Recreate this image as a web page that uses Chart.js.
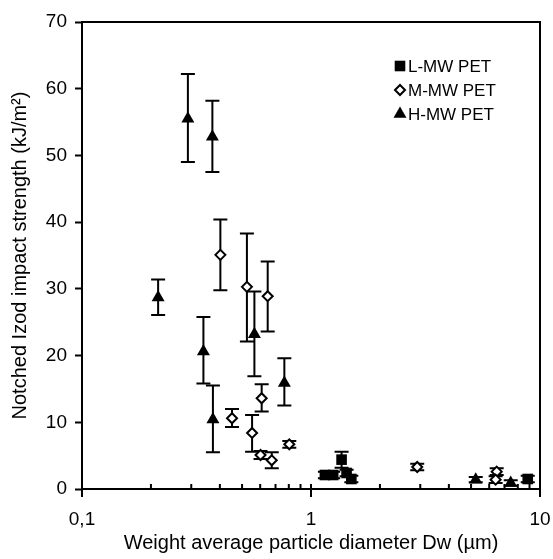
<!DOCTYPE html>
<html lang="en">
<head>
<meta charset="UTF-8">
<title>Notched Izod impact strength vs particle diameter</title>
<style>
  html, body { margin: 0; padding: 0; background: #fff; }
</style>
</head>
<body>
<canvas id="chart" width="553" height="559"></canvas>
<script src="https://cdn.jsdelivr.net/npm/chart.js"></script>
<script>
// Data (x in µm, y in kJ/m²)
const seriesNames = ['L-MW PET', 'M-MW PET', 'H-MW PET'];

const lmwX    = [1.15, 1.25, 1.36, 1.43, 1.50, 8.84];
const lmwY    = [2.1, 2.1, 4.4, 2.4, 1.5, 1.5];
const lmwLow  = [1.6, 1.6, 3.2, 1.9, 1.0, 1.0];
const lmwHigh = [2.6, 2.6, 5.6, 2.9, 2.0, 2.0];

const mmwX    = [0.402, 0.525, 0.647, 0.452, 0.609, 0.553, 0.602, 0.674, 0.804, 2.91, 6.47, 6.40];
const mmwY    = [35.1, 30.3, 28.9, 10.6, 13.6, 8.4, 5.1, 4.3, 6.7, 3.3, 2.6, 1.4];
const mmwLow  = [29.8, 22.1, 23.6, 9.3, 11.6, 5.6, 4.5, 3.1, 6.2, 2.8, 2.1, 0.9];
const mmwHigh = [40.4, 38.3, 34.1, 12.0, 15.7, 11.1, 5.7, 5.5, 7.2, 3.8, 3.1, 1.9];

const hmwX    = [0.215, 0.290, 0.371, 0.339, 0.373, 0.566, 0.765, 5.24, 7.45];
const hmwY    = [28.7, 55.5, 52.8, 20.6, 10.4, 23.2, 15.9, 1.4, 0.9];
const hmwLow  = [26.1, 49.0, 47.5, 15.8, 5.5, 16.9, 12.5, 1.0, 0.5];
const hmwHigh = [31.4, 62.2, 58.2, 25.8, 15.5, 29.6, 19.6, 1.8, 1.3];

const xTickValues = [0.1, 0.2, 0.3, 0.4, 0.5, 0.6, 0.7, 0.8, 0.9,
                     1, 2, 3, 4, 5, 6, 7, 8, 9, 10];
const xTickLabels = { 0.1: '0,1', 1: '1', 10: '10' };

const FONT = '"Liberation Sans", Arial, sans-serif';

function points(xs, ys, lo, hi) {
  return xs.map((x, i) => ({ x: x, y: ys[i], lo: lo[i], hi: hi[i] }));
}

// vertical error bars, drawn under the markers
const errorBars = {
  id: 'errorBars',
  beforeDatasetsDraw(chart) {
    const { ctx, scales: { x, y } } = chart;
    ctx.save();
    ctx.strokeStyle = '#000';
    ctx.lineWidth = 2;
    chart.data.datasets.forEach(ds => {
      ds.data.forEach(p => {
        const px = x.getPixelForValue(p.x);
        const top = y.getPixelForValue(p.hi);
        const bot = y.getPixelForValue(p.lo);
        ctx.beginPath();
        ctx.moveTo(px, top); ctx.lineTo(px, bot);
        ctx.moveTo(px - 7, top); ctx.lineTo(px + 7, top);
        ctx.moveTo(px - 7, bot); ctx.lineTo(px + 7, bot);
        ctx.stroke();
      });
    });
    ctx.restore();
  }
};

// frame, log tick marks and the legend inside the plot
const frameAndLegend = {
  id: 'frameAndLegend',
  afterDraw(chart) {
    const { ctx, chartArea: a, scales: { x } } = chart;
    ctx.save();
    ctx.strokeStyle = '#000';
    ctx.lineWidth = 2;
    ctx.beginPath();
    ctx.moveTo(a.left, a.top); ctx.lineTo(a.right, a.top); ctx.lineTo(a.right, a.bottom);
    ctx.stroke();

    // x tick marks: minor ones point inward, decades cross the axis
    ctx.beginPath();
    x.ticks.forEach(t => {
      const px = x.getPixelForValue(t.value);
      const decade = Math.abs(Math.log10(t.value) - Math.round(Math.log10(t.value))) < 1e-9;
      ctx.moveTo(px, a.bottom - 5);
      ctx.lineTo(px, decade ? a.bottom + 8 : a.bottom);
    });
    ctx.stroke();

    // legend
    ctx.font = '17px ' + FONT;
    ctx.textBaseline = 'middle';
    chart.data.datasets.forEach((ds, i) => {
      const cx = 400, cy = 66 + i * 24;
      ctx.fillStyle = ds.backgroundColor;
      ctx.strokeStyle = ds.borderColor;
      ctx.lineWidth = ds.borderWidth;
      Chart.helpers.drawPoint(ctx, { pointStyle: ds.pointStyle, radius: ds.pointRadius, borderWidth: ds.borderWidth, rotation: 0 }, cx, cy);
      ctx.fillStyle = '#000';
      ctx.fillText(ds.label, cx + 8, cy + 1);
    });
    ctx.restore();
  }
};

new Chart(document.getElementById('chart'), {
  type: 'scatter',
  data: {
    datasets: [
      {
        label: seriesNames[0],
        data: points(lmwX, lmwY, lmwLow, lmwHigh),
        pointStyle: 'rect',
        pointRadius: 7.5,
        backgroundColor: '#000',
        borderColor: '#000',
        borderWidth: 0
      },
      {
        label: seriesNames[1],
        data: points(mmwX, mmwY, mmwLow, mmwHigh),
        pointStyle: 'rectRot',
        pointRadius: 5,
        backgroundColor: '#fff',
        borderColor: '#000',
        borderWidth: 2
      },
      {
        label: seriesNames[2],
        data: points(hmwX, hmwY, hmwLow, hmwHigh),
        pointStyle: 'triangle',
        pointRadius: 7.5,
        backgroundColor: '#000',
        borderColor: '#000',
        borderWidth: 0
      }
    ]
  },
  options: {
    responsive: false,
    animation: false,
    devicePixelRatio: 1,
    layout: { padding: { top: 22, right: 13, left: 0, bottom: 0 } },
    plugins: { legend: { display: false }, tooltip: { enabled: false } },
    scales: {
      x: {
        type: 'logarithmic',
        min: 0.1,
        max: 10,
        afterBuildTicks: s => { s.ticks = xTickValues.map(v => ({ value: v })); },
        afterFit: s => { s.height = 70; s.paddingLeft = 0; s.paddingRight = 0; },
        grid: { display: false, drawTicks: false },
        border: { display: true, color: '#000', width: 2 },
        ticks: {
          autoSkip: false,
          maxRotation: 0,
          padding: 19,
          color: '#000',
          font: { family: FONT, size: 19 },
          callback: v => xTickLabels[v] || ''
        },
        title: {
          display: true,
          text: 'Weight average particle diameter Dw (µm)',
          color: '#000',
          font: { family: FONT, size: 20 },
          padding: { top: 0, bottom: 4 }
        }
      },
      y: {
        min: 0,
        max: 70,
        afterFit: s => { s.width = 82; },
        grid: { drawOnChartArea: false, tickLength: 7, tickColor: '#000', tickWidth: 2 },
        border: { display: true, color: '#000', width: 2 },
        ticks: {
          stepSize: 10,
          padding: 8,
          color: '#000',
          font: { family: FONT, size: 19 }
        },
        title: {
          display: true,
          text: 'Notched Izod impact strength (kJ/m²)',
          color: '#000',
          font: { family: FONT, size: 20 },
          padding: { top: 8, bottom: 0 }
        }
      }
    }
  },
  plugins: [errorBars, frameAndLegend]
});
</script>
</body>
</html>
